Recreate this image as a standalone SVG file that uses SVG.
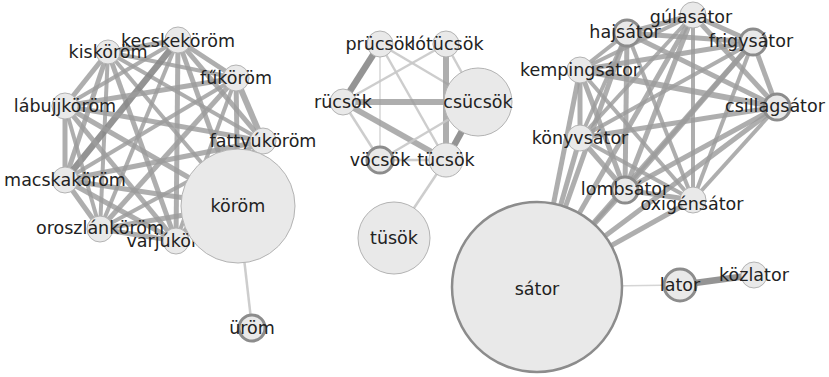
<svg xmlns="http://www.w3.org/2000/svg" width="829" height="377" viewBox="0 0 829 377">
  <style>
    .edges line { stroke: #9c9c9c; stroke-opacity: 0.82; stroke-linecap: butt; }
    .edges line.w3 { stroke-width: 4; }
    .edges line.w4 { stroke-width: 5; }
    .edges line.w5 { stroke-width: 6; }
    .edges line.dk { stroke: #888; stroke-opacity: 0.9; stroke-width: 6.5; }
    .edges line.lt { stroke: #c8c8c8; stroke-opacity: 0.9; stroke-width: 2.5; }
    .edges line.hair { stroke: #d0d0d0; stroke-opacity: 0.9; stroke-width: 1.5; }
    .node circle { fill: #e9e9e9; stroke: #b3b3b3; stroke-width: 1; }
    .node.ring circle { stroke: #8c8c8c; stroke-width: 3; }
    .node.hub circle { stroke: #8c8c8c; stroke-width: 2.5; }
    .node text { font-family: "DejaVu Sans", "Noto Sans", sans-serif; font-size: 17.5px; fill: #222222; text-anchor: middle; }
  </style>
  <rect width="829" height="377" fill="#ffffff"/>

  <g id="connectors" class="edges">
    <!-- köröm cluster: complete graph -->
    <line class="w4" x1="108" y1="52" x2="178" y2="40"/>
    <line class="w3" x1="108" y1="52" x2="236" y2="78"/>
    <line class="w4" x1="108" y1="52" x2="65" y2="106"/>
    <line class="w3" x1="108" y1="52" x2="263" y2="141"/>
    <line class="w4" x1="108" y1="52" x2="65" y2="180"/>
    <line class="w3" x1="108" y1="52" x2="100" y2="229"/>
    <line class="w4" x1="108" y1="52" x2="176" y2="241"/>
    <line class="w3" x1="108" y1="52" x2="238" y2="206"/>
    <line class="w4" x1="178" y1="40" x2="236" y2="78"/>
    <line class="w3" x1="178" y1="40" x2="65" y2="106"/>
    <line class="w4" x1="178" y1="40" x2="263" y2="141"/>
    <line class="dk" x1="178" y1="40" x2="65" y2="180"/>
    <line class="w3" x1="178" y1="40" x2="100" y2="229"/>
    <line class="w4" x1="178" y1="40" x2="176" y2="241"/>
    <line class="w4" x1="178" y1="40" x2="238" y2="206"/>
    <line class="w4" x1="236" y1="78" x2="65" y2="106"/>
    <line class="w5" x1="236" y1="78" x2="263" y2="141"/>
    <line class="w3" x1="236" y1="78" x2="65" y2="180"/>
    <line class="w4" x1="236" y1="78" x2="100" y2="229"/>
    <line class="w3" x1="236" y1="78" x2="176" y2="241"/>
    <line class="w4" x1="236" y1="78" x2="238" y2="206"/>
    <line class="w4" x1="65" y1="106" x2="263" y2="141"/>
    <line class="w4" x1="65" y1="106" x2="65" y2="180"/>
    <line class="w3" x1="65" y1="106" x2="100" y2="229"/>
    <line class="w4" x1="65" y1="106" x2="176" y2="241"/>
    <line class="w4" x1="65" y1="106" x2="238" y2="206"/>
    <line class="w4" x1="263" y1="141" x2="65" y2="180"/>
    <line class="w3" x1="263" y1="141" x2="100" y2="229"/>
    <line class="w4" x1="263" y1="141" x2="176" y2="241"/>
    <line class="w3" x1="263" y1="141" x2="238" y2="206"/>
    <line class="w4" x1="65" y1="180" x2="100" y2="229"/>
    <line class="w4" x1="65" y1="180" x2="176" y2="241"/>
    <line class="w4" x1="65" y1="180" x2="238" y2="206"/>
    <line class="w4" x1="100" y1="229" x2="176" y2="241"/>
    <line class="w4" x1="100" y1="229" x2="238" y2="206"/>
    <line class="w3" x1="176" y1="241" x2="238" y2="206"/>
    <line class="lt" x1="238" y1="206" x2="252" y2="328"/>

    <!-- csücsök cluster -->
    <line class="dk" x1="380" y1="44" x2="343" y2="102"/>
    <line class="hair" x1="380" y1="44" x2="380" y2="160"/>
    <line class="lt" x1="380" y1="44" x2="446" y2="160"/>
    <line class="lt" x1="380" y1="44" x2="478" y2="102"/>
    <line class="lt" x1="446" y1="44" x2="343" y2="102"/>
    <line class="w5" x1="446" y1="44" x2="446" y2="160"/>
    <line class="lt" x1="446" y1="44" x2="478" y2="102"/>
    <line class="w5" x1="343" y1="102" x2="478" y2="102"/>
    <line class="w5" x1="343" y1="102" x2="446" y2="160"/>
    <line class="lt" x1="343" y1="102" x2="380" y2="160"/>
    <line class="lt" x1="380" y1="160" x2="446" y2="160"/>
    <line class="lt" x1="380" y1="160" x2="478" y2="102"/>
    <line class="dk" x1="478" y1="102" x2="446" y2="160"/>
    <line class="lt" x1="446" y1="160" x2="394" y2="238"/>

    <!-- sátor cluster: complete graph -->
    <line class="w4" x1="627" y1="33" x2="693" y2="15"/>
    <line class="w4" x1="627" y1="33" x2="753" y2="42"/>
    <line class="w3" x1="627" y1="33" x2="580" y2="70"/>
    <line class="w4" x1="627" y1="33" x2="777" y2="107"/>
    <line class="w3" x1="627" y1="33" x2="580" y2="138"/>
    <line class="w4" x1="627" y1="33" x2="625" y2="190"/>
    <line class="w3" x1="627" y1="33" x2="693" y2="200"/>
    <line class="w4" x1="627" y1="33" x2="537" y2="287"/>
    <line class="w4" x1="693" y1="15" x2="753" y2="42"/>
    <line class="w3" x1="693" y1="15" x2="580" y2="70"/>
    <line class="w4" x1="693" y1="15" x2="777" y2="107"/>
    <line class="w3" x1="693" y1="15" x2="580" y2="138"/>
    <line class="w4" x1="693" y1="15" x2="625" y2="190"/>
    <line class="w3" x1="693" y1="15" x2="693" y2="200"/>
    <line class="w4" x1="693" y1="15" x2="537" y2="287"/>
    <line class="w4" x1="753" y1="42" x2="580" y2="70"/>
    <line class="w4" x1="753" y1="42" x2="777" y2="107"/>
    <line class="w3" x1="753" y1="42" x2="580" y2="138"/>
    <line class="w4" x1="753" y1="42" x2="625" y2="190"/>
    <line class="w3" x1="753" y1="42" x2="693" y2="200"/>
    <line class="w4" x1="753" y1="42" x2="537" y2="287"/>
    <line class="w5" x1="580" y1="70" x2="777" y2="107"/>
    <line class="w4" x1="580" y1="70" x2="580" y2="138"/>
    <line class="w4" x1="580" y1="70" x2="625" y2="190"/>
    <line class="w3" x1="580" y1="70" x2="693" y2="200"/>
    <line class="w4" x1="580" y1="70" x2="537" y2="287"/>
    <line class="w4" x1="777" y1="107" x2="580" y2="138"/>
    <line class="w4" x1="777" y1="107" x2="625" y2="190"/>
    <line class="w3" x1="777" y1="107" x2="693" y2="200"/>
    <line class="w4" x1="777" y1="107" x2="537" y2="287"/>
    <line class="w4" x1="580" y1="138" x2="625" y2="190"/>
    <line class="w3" x1="580" y1="138" x2="693" y2="200"/>
    <line class="w4" x1="580" y1="138" x2="537" y2="287"/>
    <line class="w4" x1="625" y1="190" x2="693" y2="200"/>
    <line class="w4" x1="625" y1="190" x2="537" y2="287"/>
    <line class="w4" x1="693" y1="200" x2="537" y2="287"/>
    <line class="hair" x1="537" y1="287" x2="680" y2="285"/>
    <line class="dk" x1="680" y1="285" x2="754" y2="275"/>
  </g>

  <!-- köröm cluster -->
  <g id="kiskorom" class="node"><circle cx="108" cy="52" r="12"/><text x="108" y="58">kisköröm</text></g>
  <g id="kecskekorom" class="node"><circle cx="178" cy="40" r="13"/><text x="178" y="47">kecskeköröm</text></g>
  <g id="fukorom" class="node"><circle cx="236" cy="78" r="13"/><text x="236" y="84">fűköröm</text></g>
  <g id="labujjkorom" class="node"><circle cx="65" cy="106" r="13"/><text x="65" y="112">lábujjköröm</text></g>
  <g id="fattyukorom" class="node"><circle cx="263" cy="141" r="13"/><text x="263" y="147">fattyúköröm</text></g>
  <g id="macskakorom" class="node"><circle cx="65" cy="180" r="13"/><text x="65" y="186">macskaköröm</text></g>
  <g id="oroszlankorom" class="node"><circle cx="100" cy="229" r="13"/><text x="100" y="234">oroszlánköröm</text></g>
  <g id="varjukorom" class="node"><circle cx="176" cy="241" r="13"/><text x="176" y="247">varjúköröm</text></g>
  <g id="korom" class="node"><circle cx="238" cy="206" r="57"/><text x="238" y="212">köröm</text></g>
  <g id="urom" class="node ring"><circle cx="252" cy="328" r="13"/><text x="252" y="334">üröm</text></g>

  <!-- csücsök cluster -->
  <g id="prucsok" class="node"><circle cx="380" cy="44" r="13"/><text x="380" y="50">prücsök</text></g>
  <g id="lotucsok" class="node"><circle cx="446" cy="44" r="13"/><text x="447" y="50">lótücsök</text></g>
  <g id="rucsok" class="node"><circle cx="343" cy="102" r="13"/><text x="343" y="108">rücsök</text></g>
  <g id="csucsok" class="node"><circle cx="478" cy="102" r="34"/><text x="478" y="108">csücsök</text></g>
  <g id="vocsok" class="node ring"><circle cx="380" cy="160" r="13"/><text x="380" y="166">vöcsök</text></g>
  <g id="tucsok" class="node"><circle cx="446" cy="160" r="17"/><text x="446" y="166">tücsök</text></g>
  <g id="tusok" class="node"><circle cx="394" cy="238" r="36"/><text x="394" y="244">tüsök</text></g>

  <!-- sátor cluster -->
  <g id="hajsator" class="node ring"><circle cx="627" cy="33" r="13"/><text x="625" y="38">hajsátor</text></g>
  <g id="gulasator" class="node"><circle cx="693" cy="15" r="13"/><text x="691" y="23">gúlasátor</text></g>
  <g id="frigysator" class="node ring"><circle cx="753" cy="42" r="13"/><text x="751" y="47">frigysátor</text></g>
  <g id="kempingsator" class="node"><circle cx="580" cy="70" r="13"/><text x="580" y="76">kempingsátor</text></g>
  <g id="csillagsator" class="node ring"><circle cx="777" cy="107" r="13"/><text x="775" y="112">csillagsátor</text></g>
  <g id="konyvsator" class="node"><circle cx="580" cy="138" r="13"/><text x="580" y="144">könyvsátor</text></g>
  <g id="lombsator" class="node ring"><circle cx="625" cy="190" r="13"/><text x="625" y="195">lombsátor</text></g>
  <g id="oxigensator" class="node"><circle cx="693" cy="200" r="13"/><text x="692" y="210">oxigénsátor</text></g>
  <g id="sator" class="node hub"><circle cx="537" cy="287" r="85"/><text x="537" y="295">sátor</text></g>
  <g id="lator" class="node ring"><circle cx="680" cy="285" r="16"/><text x="680" y="291">lator</text></g>
  <g id="kozlator" class="node"><circle cx="754" cy="275" r="13"/><text x="754" y="281">közlator</text></g>
</svg>
